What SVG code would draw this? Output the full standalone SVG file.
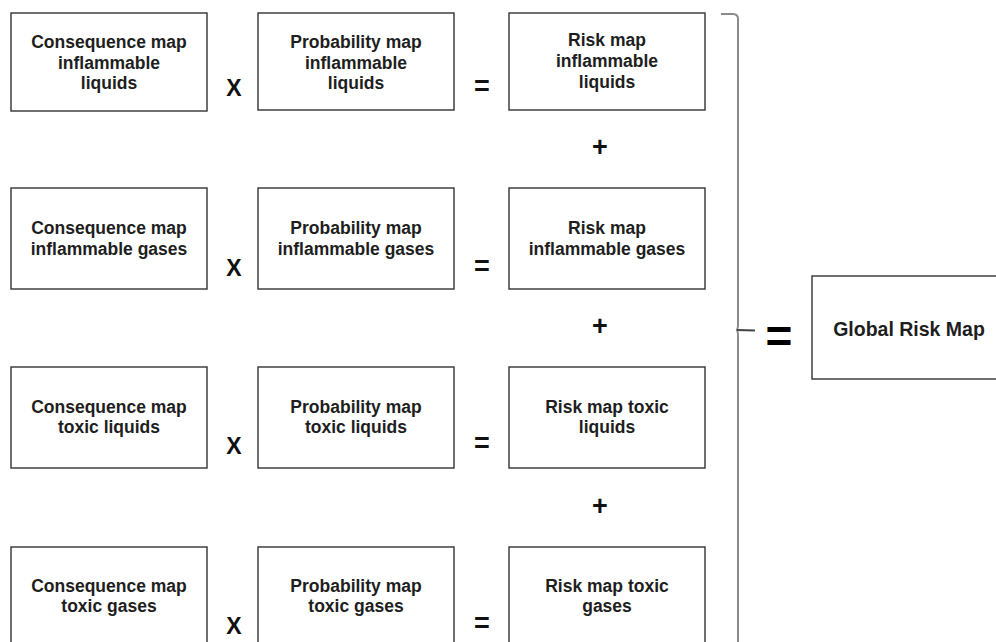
<svg xmlns="http://www.w3.org/2000/svg" width="996" height="642" viewBox="0 0 996 642">
<style>
.box{fill:#fff;stroke:#333;stroke-width:1.4}
.t{font-family:"Liberation Sans",Arial,sans-serif;font-weight:bold;font-size:17.5px;fill:#1e1e1e;text-anchor:middle}
.g{font-family:"Liberation Sans",Arial,sans-serif;font-weight:bold;font-size:19.5px;fill:#1e1e1e;text-anchor:middle}
.op{font-family:"Liberation Sans",Arial,sans-serif;font-weight:bold;font-size:23px;fill:#111;text-anchor:middle}
.pl{font-family:"Liberation Sans",Arial,sans-serif;font-weight:bold;font-size:27px;fill:#111;text-anchor:middle}
.eq{font-family:"Liberation Sans",Arial,sans-serif;font-weight:bold;font-size:46px;fill:#000;text-anchor:middle}
.br{fill:none;stroke:#8a8a8a;stroke-width:2}
.tip{fill:none;stroke:#444;stroke-width:2}
</style>
<rect width="996" height="642" fill="#fff"/>
<g id="cons-inf-liq"><rect class="box" x="11" y="13" width="196" height="98"/><text class="t" x="109" y="48">Consequence map</text><text class="t" x="109" y="68.5">inflammable</text><text class="t" x="109" y="89">liquids</text></g>
<g id="prob-inf-liq"><rect class="box" x="258" y="13" width="196" height="97"/><text class="t" x="356" y="48">Probability map</text><text class="t" x="356" y="68.5">inflammable</text><text class="t" x="356" y="89">liquids</text></g>
<g id="risk-inf-liq"><rect class="box" x="509" y="13" width="196" height="97"/><text class="t" x="607" y="46">Risk map</text><text class="t" x="607" y="67">inflammable</text><text class="t" x="607" y="88">liquids</text></g>
<g id="cons-inf-gas"><rect class="box" x="11" y="188" width="196" height="101"/><text class="t" x="109" y="234">Consequence map</text><text class="t" x="109" y="255">inflammable gases</text></g>
<g id="prob-inf-gas"><rect class="box" x="258" y="188" width="196" height="101"/><text class="t" x="356" y="234">Probability map</text><text class="t" x="356" y="255">inflammable gases</text></g>
<g id="risk-inf-gas"><rect class="box" x="509" y="188" width="196" height="101"/><text class="t" x="607" y="234">Risk map</text><text class="t" x="607" y="255">inflammable gases</text></g>
<g id="cons-tox-liq"><rect class="box" x="11" y="367" width="196" height="101"/><text class="t" x="109" y="413">Consequence map</text><text class="t" x="109" y="433">toxic liquids</text></g>
<g id="prob-tox-liq"><rect class="box" x="258" y="367" width="196" height="101"/><text class="t" x="356" y="413">Probability map</text><text class="t" x="356" y="433">toxic liquids</text></g>
<g id="risk-tox-liq"><rect class="box" x="509" y="367" width="196" height="101"/><text class="t" x="607" y="413">Risk map toxic</text><text class="t" x="607" y="433">liquids</text></g>
<g id="cons-tox-gas"><rect class="box" x="11" y="547" width="196" height="110"/><text class="t" x="109" y="592">Consequence map</text><text class="t" x="109" y="612">toxic gases</text></g>
<g id="prob-tox-gas"><rect class="box" x="258" y="547" width="196" height="110"/><text class="t" x="356" y="592">Probability map</text><text class="t" x="356" y="612">toxic gases</text></g>
<g id="risk-tox-gas"><rect class="box" x="509" y="547" width="196" height="110"/><text class="t" x="607" y="592">Risk map toxic</text><text class="t" x="607" y="612">gases</text></g>
<g id="global"><rect class="box" x="812" y="276" width="200" height="103"/><text class="g" x="909" y="336">Global Risk Map</text></g>
<g id="connectors">
<text class="op" x="234" y="96">X</text>
<text class="op" x="234" y="276">X</text>
<text class="op" x="234" y="454">X</text>
<text class="op" x="234" y="634">X</text>
<text class="pl" x="482" y="95">=</text>
<text class="pl" x="482" y="275">=</text>
<text class="pl" x="482" y="452">=</text>
<text class="pl" x="482" y="632">=</text>
<text class="pl" x="600" y="156">+</text>
<text class="pl" x="600" y="335">+</text>
<text class="pl" x="600" y="515">+</text>
<path class="br" d="M721,14 L733,14 Q738,14 738,19 L738,324 Q738,330 736,330 Q738,330 738,336 L738,645"/>
<path class="tip" d="M737,330 L755,330.5"/>
<text class="eq" x="779" y="352">=</text>
</g>
</svg>
